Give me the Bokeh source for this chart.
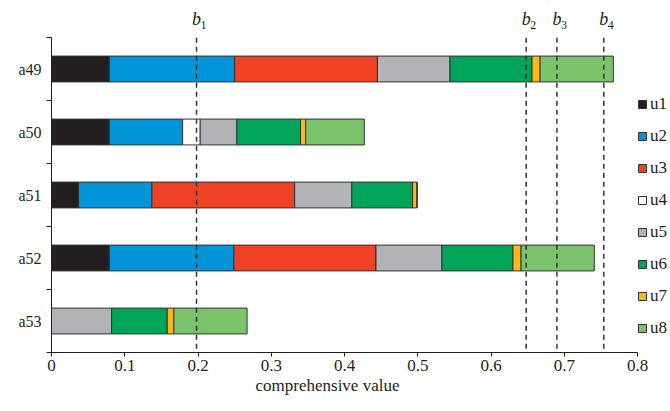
from bokeh.plotting import figure
from bokeh.models import FixedTicker, Label, ColumnDataSource, Title
from bokeh.embed import file_html
from bokeh.resources import INLINE

# ---- data ----
categories = ["a49", "a50", "a51", "a52", "a53"]
series = ["u1", "u2", "u3", "u4", "u5", "u6", "u7", "u8"]
u1 = [0.079, 0.079, 0.037, 0.079, 0.0]
u2 = [0.171, 0.100, 0.100, 0.170, 0.0]
u3 = [0.195, 0.0, 0.195, 0.194, 0.0]
u4 = [0.0, 0.024, 0.0, 0.0, 0.0]
u5 = [0.099, 0.050, 0.078, 0.090, 0.082]
u6 = [0.112, 0.087, 0.083, 0.097, 0.076]
u7 = [0.011, 0.007, 0.006, 0.011, 0.009]
u8 = [0.100, 0.080, 0.0, 0.100, 0.100]
thresholds = [0.198, 0.648, 0.690, 0.754]
threshold_subs = ["1", "2", "3", "4"]
xticks = [0, 0.1, 0.2, 0.3, 0.4, 0.5, 0.6, 0.7, 0.8]
xtick_labels = ["0", "0.1", "0.2", "0.3", "0.4", "0.5", "0.6", "0.7", "0.8"]
x_title = "comprehensive value"

colors = ["#231f20", "#0095d9", "#ef4123", "#ffffff", "#b2b3b6", "#00a55a", "#fdb913", "#7ac36a"]
SERIF = "Liberation Serif"
INK = "#231f20"

n = len(categories)
ypos = [n - 0.5 - i for i in range(n)]
data = dict(y=ypos, u1=u1, u2=u2, u3=u3, u4=u4, u5=u5, u6=u6, u7=u7, u8=u8)
src = ColumnDataSource(data)

XMAX = 0.8
x_end = XMAX * 619 / 586
y_end = n * 347 / 315

p = figure(width=670, height=411, x_range=(0, x_end), y_range=(0, y_end),
           output_backend="svg", toolbar_location=None,
           min_border_left=51, min_border_right=0, min_border_top=5, min_border_bottom=59)
p.outline_line_color = None
p.xgrid.grid_line_color = None
p.ygrid.grid_line_color = None

p.hbar_stack(series, y="y", height=0.41, color=colors, line_color="#333333",
             line_width=1, source=src, legend_label=series)

p.segment(x0=thresholds, y0=[0.06] * len(thresholds), x1=thresholds, y1=[n] * len(thresholds),
          line_color="#333333", line_width=1.5, line_dash="5 4")

for t, s in zip(thresholds, threshold_subs):
    p.add_layout(Label(x=t, y=n + 0.30, text="b", text_font=SERIF, text_font_style="italic",
                       text_font_size="18px", text_align="center", text_baseline="middle",
                       text_color=INK))
    p.add_layout(Label(x=t, y=n + 0.20, x_offset=7, text=s, text_font=SERIF,
                       text_font_size="12px", text_align="center", text_baseline="middle",
                       text_color=INK))

# x axis
xa = p.xaxis[0]
xa.bounds = (0, XMAX)
xa.ticker = FixedTicker(ticks=xticks)
xa.major_label_overrides = {t: l for t, l in zip(xticks, xtick_labels)}
xa.minor_tick_line_color = None
xa.major_tick_in = 0
xa.major_tick_out = 4
xa.axis_line_color = INK
xa.major_tick_line_color = INK
xa.major_label_text_font = SERIF
xa.major_label_text_font_size = "17px"
xa.major_label_text_color = INK
xa.major_label_standoff = 3

p.add_layout(Title(text=x_title, align="left", offset=204, standoff=0,
                   text_font=SERIF, text_font_style="normal", text_font_size="17px",
                   text_color=INK), "below")

# y axis
ya = p.yaxis[0]
ya.bounds = (0, n)
ya.ticker = FixedTicker(ticks=ypos, minor_ticks=list(range(n + 1)))
ya.major_label_overrides = {y: c for y, c in zip(ypos, categories)}
ya.major_tick_line_color = None
ya.major_tick_in = 0
ya.major_tick_out = 0
ya.minor_tick_in = 0
ya.minor_tick_out = 5
ya.minor_tick_line_color = INK
ya.axis_line_color = INK
ya.major_label_text_font = SERIF
ya.major_label_text_font_size = "16px"
ya.major_label_text_color = INK
ya.major_label_standoff = 5

lg = p.legend[0]
lg.location = (586, 14)
lg.padding = 0
lg.margin = 0
lg.border_line_color = None
lg.background_fill_alpha = 0
lg.glyph_width = 10
lg.glyph_height = 10
lg.label_height = 20
lg.spacing = 12
lg.label_standoff = 3
lg.label_text_font = SERIF
lg.label_text_font_size = "17px"
lg.label_text_color = INK

open("out.html", "w").write(file_html(p, INLINE))
